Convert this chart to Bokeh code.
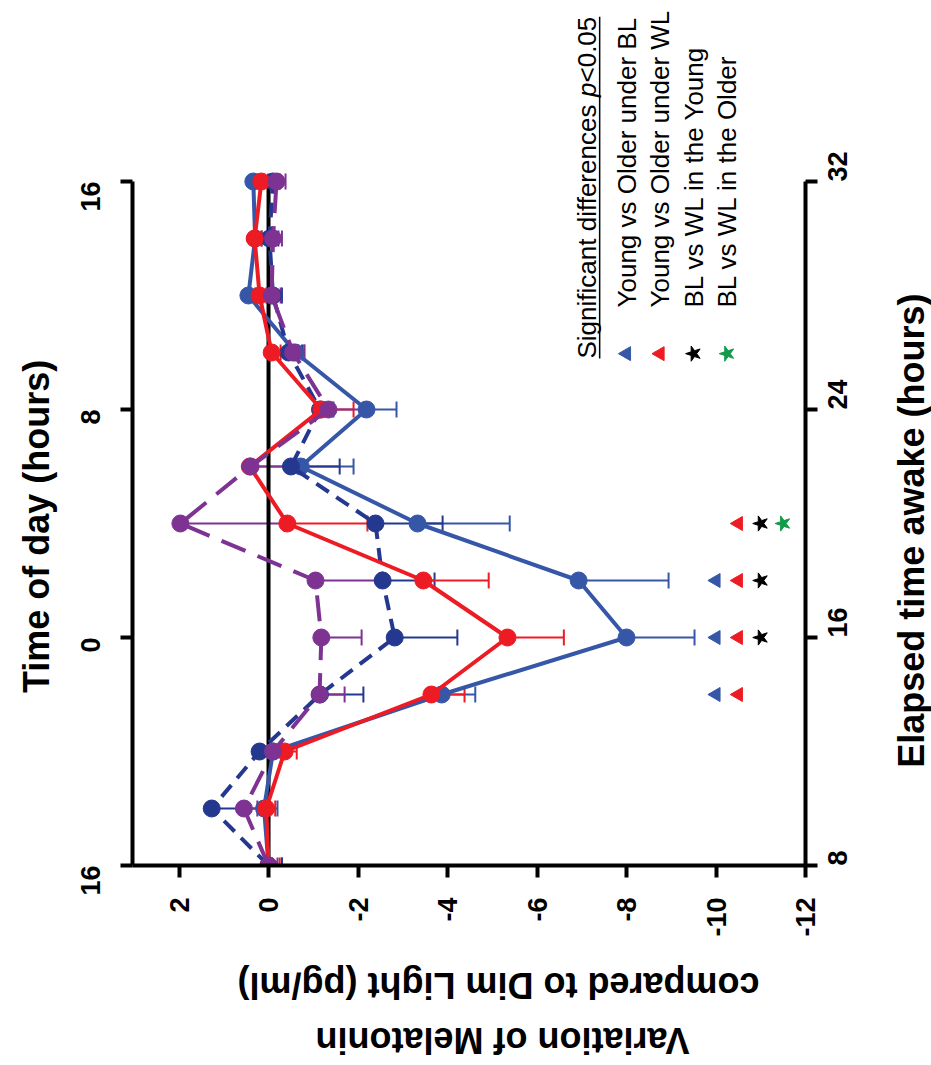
import math
from bokeh.plotting import figure
from bokeh.models import Range1d, LinearAxis, FixedTicker, Label, Whisker, TeeHead, ColumnDataSource
from bokeh.embed import file_html
from bokeh.resources import INLINE
from bokeh.core.properties import value

# ---------------- data ----------------
time_of_day = [-8, -6, -4, -2, 0, 2, 4, 6, 8, 10, 12, 14, 16]   # hours relative to midnight
time_ticks = [-8, 0, 8, 16]
time_tick_labels = ["16", "0", "8", "16"]
elapsed_ticks = [8, 16, 24, 32]
melatonin_ticks = [2, 0, -2, -4, -6, -8, -10, -12]
melatonin_tick_labels = ["2", "0", "-2", "-4", "-6", "-8", "-10", "-12"]

young_bl = [0.0, 0.1, -0.1, -3.87, -8.0, -6.93, -3.33, -0.72, -2.19, -0.6, 0.45, 0.3, 0.34]
young_bl_sem = [0.3, 0.3, 0.3, 0.75, 1.52, 2.01, 2.06, 1.18, 0.67, 0.2, 0.15, 0.15, 0.1]

older_bl = [0.0, 1.27, 0.2, -1.15, -2.82, -2.55, -2.39, -0.5, -1.15, -0.45, -0.1, -0.02, -0.1]
older_bl_sem = [0.3, 1.15, 0.3, 0.97, 1.4, 1.16, 1.5, 1.09, 0.3, 0.3, 0.2, 0.2, 0.15]

young_wl = [0.0, 0.05, -0.36, -3.64, -5.34, -3.46, -0.42, 0.42, -1.18, -0.07, 0.2, 0.31, 0.16]
young_wl_sem = [0.25, 0.2, 0.27, 0.74, 1.26, 1.46, 1.79, 1.12, 0.72, 0.2, 0.15, 0.15, 0.15]

older_wl = [0.0, 0.55, -0.1, -1.14, -1.18, -1.05, 1.97, 0.4, -1.34, -0.55, -0.07, -0.1, -0.18]
older_wl_sem = [0.2, 0.3, 0.2, 0.56, 0.9, 1.43, 2.32, 1.18, 0.78, 0.25, 0.2, 0.2, 0.2]

sig_young_vs_older_bl = [-2, 0, 2]
sig_young_vs_older_wl = [-2, 0, 2, 4]
sig_bl_vs_wl_young = [0, 2, 4]
sig_bl_vs_wl_older = [4]

legend_header = ["Significant differences ", "p", "<0.05"]
legend_items = ["Young vs Older under BL", "Young vs Older under WL",
                "BL vs WL in the Young", "BL vs WL in the Older"]

# ---------------- style ----------------
C_ROYAL = "#3656A7"
C_NAVY = "#24388F"
C_RED = "#ED1C24"
C_PURPLE = "#7E3393"
C_GREEN = "#12994A"
FONT = "Liberation Sans"
ROT = math.pi / 2

# ---------------- figure ----------------
p = figure(width=931, height=1065, output_backend="svg", toolbar_location=None,
           x_range=Range1d(3.04, -12), y_range=Range1d(-8, 22.351),
           min_border_left=132, min_border_right=126, min_border_top=0, min_border_bottom=200)
p.extra_y_ranges = {"elapsed": Range1d(8, 38.351)}
p.outline_line_color = None
p.xgrid.visible = False
p.ygrid.visible = False
p.background_fill_color = "white"
p.border_fill_color = "white"

right_axis = LinearAxis(y_range_name="elapsed")
p.add_layout(right_axis, "right")

for ax in [p.xaxis[0], p.yaxis[0], right_axis]:
    ax.axis_line_width = 4
    ax.axis_line_color = "black"
    ax.major_tick_line_width = 4
    ax.major_tick_out = 12
    ax.major_tick_in = 0
    ax.minor_tick_line_color = None
    ax.major_label_text_font = FONT
    ax.major_label_text_font_style = "bold"
    ax.major_label_text_font_size = "27px"
    ax.major_label_text_color = "black"
    ax.major_label_orientation = ROT

p.xaxis[0].major_label_standoff = 20
p.yaxis[0].major_label_standoff = 30
right_axis.major_label_standoff = 20

p.xaxis[0].ticker = FixedTicker(ticks=melatonin_ticks)
p.xaxis[0].major_label_overrides = {t: s for t, s in zip(melatonin_ticks, melatonin_tick_labels)}
p.yaxis[0].ticker = FixedTicker(ticks=time_ticks)
p.yaxis[0].major_label_overrides = {t: s for t, s in zip(time_ticks, time_tick_labels)}
p.yaxis[0].bounds = (time_of_day[0], time_of_day[-1])
right_axis.ticker = FixedTicker(ticks=elapsed_ticks)
right_axis.bounds = (elapsed_ticks[0], elapsed_ticks[-1])

# zero line
p.line(x=[0, 0], y=[time_of_day[0], time_of_day[-1]], line_color="black", line_width=4)

series = [
    (young_bl, young_bl_sem, C_ROYAL, "solid"),
    (older_bl, older_bl_sem, C_NAVY, "15 9"),
    (young_wl, young_wl_sem, C_RED, "solid"),
    (older_wl, older_wl_sem, C_PURPLE, "26 13"),
]
for vals, sem, col, dash in series:
    src = ColumnDataSource(dict(t=time_of_day, v=vals, e=[v - s for v, s in zip(vals, sem)]))
    p.add_layout(Whisker(source=src, base="t", lower="v", upper="e", dimension="width",
                         line_color=col, line_width=2, lower_head=None,
                         upper_head=TeeHead(size=16, line_color=col, line_width=2)))
for vals, sem, col, dash in series:
    p.line(x=vals, y=time_of_day, line_color=col, line_width=4, line_dash=dash)
    p.scatter(x=vals, y=time_of_day, size=17, fill_color=col, line_color=col)

# significance markers (columns in value units)
col_pos = [-10.0, -10.5, -11.0, -11.5]
sig_sets = [(sig_young_vs_older_bl, "triangle", C_ROYAL, 14),
            (sig_young_vs_older_wl, "triangle", C_RED, 14),
            (sig_bl_vs_wl_young, "star", "black", 16),
            (sig_bl_vs_wl_older, "star", C_GREEN, 16)]
for cx, (ts, mk, col, sz) in zip(col_pos, sig_sets):
    p.scatter(x=[cx] * len(ts), y=ts, marker=mk, size=sz, angle=ROT,
              fill_color=col, line_color=col)

# legend block (rotated)
hdr_v = -7.106
hdr_t = [9.789, 18.967, 19.474]
for txt, tt, style in zip(legend_header, hdr_t, ["normal", "italic", "normal"]):
    p.text(x=[hdr_v], y=[tt], text=[txt], angle=ROT, text_font=value(FONT),
           text_font_size="26px", text_font_style=style, text_align="left",
           text_baseline="middle", text_color="black")
p.segment(x0=[-7.40], y0=[hdr_t[0]], x1=[-7.40], y1=[21.782], line_color="black", line_width=1.5)

leg_v = [-8.0, -8.75, -9.5, -10.25]
for lv, txt, (ts, mk, col, sz) in zip(leg_v, legend_items, sig_sets):
    p.scatter(x=[lv], y=[9.96], marker=mk, size=sz, angle=ROT, fill_color=col, line_color=col)
    p.text(x=[lv], y=[11.58], text=[txt], angle=ROT, text_font=value(FONT),
           text_font_size="26px", text_align="left", text_baseline="middle", text_color="black")

# axis titles (placed in side panels so they are not clipped to the frame)
def title(text, x, y, angle, side):
    p.add_layout(Label(x=x, y=y, text=text, angle=angle, text_font=FONT,
                       text_font_style="bold", text_font_size="36px",
                       text_align="center", text_baseline="middle", text_color="black"), side)

title("Time of day (hours)", 5.18, 3.9, ROT, "left")
title("Elapsed time awake (hours)", -14.37, 3.75, ROT, "right")
title("compared to Dim Light (pg/ml)", -5.14, -12.21, math.pi, "below")
title("Variation of Melatonin", -5.23, -14.14, math.pi, "below")

open("out.html", "w").write(file_html(p, INLINE))
